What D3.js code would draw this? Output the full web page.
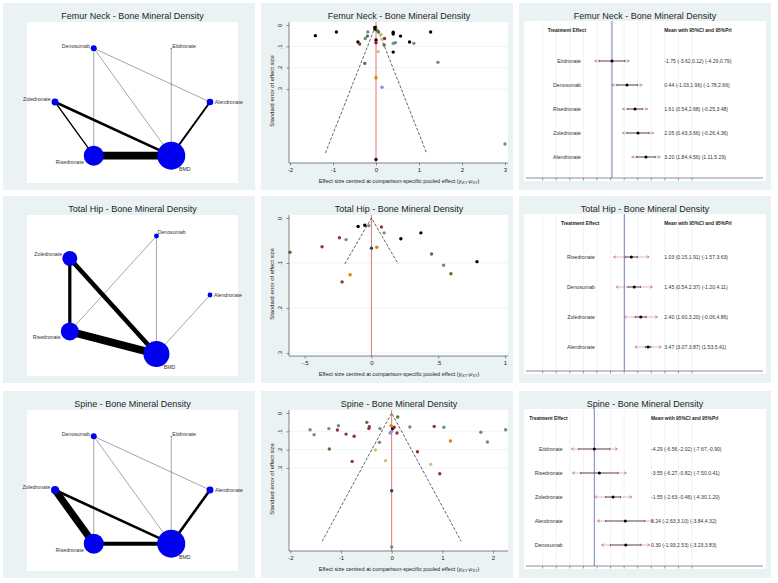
<!DOCTYPE html>
<html>
<head>
<meta charset="utf-8">
<script src="https://cdn.jsdelivr.net/npm/d3@7"></script>
<style>
  body { margin: 0; background: #fff; }
  svg { display: block; font-family: "Liberation Sans", Arial, sans-serif; }
</style>
</head>
<body>
<svg width="778" height="583"></svg>
<script>
const titles = ["Femur Neck - Bone Mineral Density", "Total Hip - Bone Mineral Density", "Spine - Bone Mineral Density"];

// ---- network plots: nodes listed anticlockwise from 3 o'clock
const netNodes = [
  ["Alendronate", "Etidronate", "Denosumab", "Zoledronate", "Risedronate", "BMD"],
  ["Alendronate", "Denosumab", "Zoledronate", "Risedronate", "BMD"],
  ["Alendronate", "Etidronate", "Denosumab", "Zoledronate", "Risedronate", "BMD"]
];
const netNodeSize = [
  [11, 0.3, 9, 12, 100, 196],
  [6, 6, 56, 81, 169],
  [12, 0.3, 9, 16, 100, 196]
];
const netEdges = [
  [["Denosumab", "Risedronate", 1], ["Denosumab", "BMD", 1], ["Denosumab", "Alendronate", 1], ["Etidronate", "BMD", 1],
   ["Zoledronate", "Risedronate", 2], ["Zoledronate", "BMD", 4], ["Alendronate", "BMD", 3], ["Risedronate", "BMD", 12]],
  [["Denosumab", "Risedronate", 1], ["Denosumab", "BMD", 1], ["Alendronate", "BMD", 1],
   ["Zoledronate", "Risedronate", 5], ["Zoledronate", "BMD", 7], ["Risedronate", "BMD", 12]],
  [["Denosumab", "Risedronate", 1], ["Denosumab", "BMD", 1], ["Denosumab", "Alendronate", 1], ["Etidronate", "BMD", 1],
   ["Zoledronate", "Risedronate", 11], ["Zoledronate", "BMD", 4], ["Alendronate", "BMD", 4], ["Risedronate", "BMD", 6]]
];

// ---- comparison-adjusted funnel plots
const funnelX = [
  [-1.41, -0.92, -0.42, -0.38, -0.25, -0.19, -0.20, -0.26, -0.03, -0.02, 0.03, 0.06, 0.00, 0.00, 0.12, 0.14, 0.05,
   0.20, 0.19, 0.40, 0.40, 0.57, 0.40, 0.45, 0.40, 0.78, 0.88, 1.27, 1.44, 0.00, 0.14, 3.00, 0.00],
  [-0.61, -0.37, -0.24, -0.19, -0.16, -0.22, -0.10, -0.05, -0.02, 0.075, 0.095, 0.00, 0.04, 0.22, 0.37, 0.45, 0.54, 0.595, 0.79],
  [-1.61, -1.53, -1.24, -1.05, -1.07, -0.90, -0.74, -1.23, -0.78, -0.49, -0.44, -0.45, -0.23, -0.24, -0.32, -0.12, -0.03,
   0.00, -0.01, 0.02, 0.05, 0.12, 0.105, 0.36, 0.51, 0.84, 1.03, 1.16, 0.77, 0.95, 1.76, 1.89, 2.25, 0.00, 0.00]
];
const funnelSE = [
  [0.050, 0.033, 0.080, 0.089, 0.063, 0.033, 0.052, 0.180, 0.011, 0.020, 0.027, 0.033, 0.070, 0.083, 0.044, 0.067, 0.125,
   0.063, 0.094, 0.034, 0.042, 0.052, 0.086, 0.083, 0.127, 0.080, 0.086, 0.033, 0.175, 0.247, 0.292, 0.558, 0.630],
  [0.076, 0.064, 0.044, 0.048, 0.126, 0.142, 0.019, 0.016, 0.017, 0.020, 0.033, 0.067, 0.065, 0.046, 0.033, 0.080, 0.105, 0.124, 0.097],
  [0.091, 0.118, 0.085, 0.069, 0.093, 0.115, 0.127, 0.196, 0.264, 0.051, 0.075, 0.085, 0.085, 0.160, 0.202, 0.260, 0.109,
   0.100, 0.069, 0.085, 0.078, 0.022, 0.109, 0.076, 0.211, 0.073, 0.078, 0.153, 0.280, 0.331, 0.105, 0.158, 0.091, 0.424, 0.731]
];
const funnelGroup = [
  ["k", "k", "k", "mr", "tl", "tl", "fg", "fg", "k", "k", "fg", "fg", "k", "cr", "kh", "kh", "kh",
   "mr", "fg", "k", "k", "k", "tl", "tl", "k", "k", "tl", "k", "tl", "or", "lv", "tl", "k"],
  ["fg", "mr", "mr", "tl", "or", "mr", "k", "k", "tl", "mr", "tl", "nv", "or", "k", "k", "fg", "tl", "fg", "k"],
  ["tl", "tl", "tl", "tl", "mr", "mr", "mr", "fg", "mr", "fg", "mr", "mr", "tl", "tl", "kh", "kh", "lv",
   "lv", "or", "k", "mr", "fg", "mr", "tl", "mr", "mr", "tl", "or", "kh", "mr", "tl", "tl", "tl", "nv", "tl"]
];
const funnelSeMax = [0.6, 0.102, 0.7];
const funnelXTicks = [[-2, -1, 0, 1, 2, 3], [-0.5, 0, 0.5, 1], [-2, -1, 0, 1, 2]];
const funnelYTicks = [0, 0.1, 0.2, 0.3];

// ---- forest plots
const forestNames = [
  ["Etidronate", "Denosumab", "Risedronate", "Zoledronate", "Alendronate"],
  ["Risedronate", "Denosumab", "Zoledronate", "Alendronate"],
  ["Etidronate", "Risedronate", "Zoledronate", "Alendronate", "Denosumab"]
];
const forestMean = [[-1.75, 0.44, 1.61, 2.05, 3.20], [1.03, 1.45, 2.40, 3.47], [-4.29, -3.55, -1.55, 0.24, 0.30]];
const forestCiLo = [[-3.62, -1.03, 0.54, 0.43, 1.84], [0.15, 0.54, 1.60, 3.07], [-6.56, -6.27, -2.63, -2.63, -1.93]];
const forestCiHi = [[0.12, 1.96, 2.68, 3.66, 4.56], [1.91, 2.37, 3.20, 3.87], [-2.02, -0.82, -0.46, 3.10, 2.53]];
const forestPrLo = [[-4.29, -1.78, -0.25, -0.26, 1.11], [-1.57, -1.20, -0.06, 1.53], [-7.67, -7.50, -4.30, -3.84, -3.23]];
const forestPrHi = [[0.79, 2.66, 3.48, 4.36, 5.29], [3.63, 4.11, 4.86, 5.41], [-0.90, 0.41, 1.20, 4.32, 3.83]];
const forestRef = [-1.75, 0, -4.29];

// ---- layout
const colX = [0, 258, 516], rowY = [0, 193, 388];
const funnelXAnchor = [[32, 247], [46.7, 247], [32.3, 235]];
const funnelYAnchor = [[25, 89], [25, 160], [25, 80]];
const forestRefPx = [96, 108.3, 78.3];
const forestLabelX = [65, 79, 46.7];
const forestHeadX = [31.7, 45, 13.3];
const forestValX = [148.3, 148.3, 135];
const pxPerUnit = 6.85;

const groupColor = d3.scaleOrdinal()
  .domain(["k", "nv", "mr", "fg", "or", "tl", "cr", "lv", "kh"])
  .range(["#000000", "#1a476f", "#90353b", "#55752f", "#e37e00", "#6e8e84", "#c10534", "#938dd2", "#cac27e"]);

// plain hyphen minus, Stata style (no leading zero)
const hy = s => s.replace(/\u2212/g, "-");
const stataFmt = v => hy(d3.format("")(v)).replace(/^(-?)0\./, "$1.");
const f2 = v => hy(d3.format(".2f")(v));
const svg = d3.select("svg");

function panel(r, c) {
  const g = svg.append("g").attr("transform", `translate(${colX[c]},${rowY[r]})`);
  g.append("rect").attr("x", 3).attr("y", 3).attr("width", 252).attr("height", 187).attr("fill", "#eaf2f3");
  return g;
}
function title(g, p, cx) {
  g.append("text").attr("x", cx).attr("y", 18.5).attr("text-anchor", "middle")
    .attr("font-size", 9).attr("fill", "#1e1e1e").text(titles[p]);
}

function drawNetwork(g, p) {
  g.append("rect").attr("x", 27).attr("y", 22).attr("width", 211).attr("height", 161).attr("fill", "#fff");
  title(g, p, 132.5);
  const sx = d3.scaleLinear().domain([-1, 1]).range([55, 210]);
  const sy = d3.scaleLinear().domain([-1, 1]).range([164, 40]);
  const rs = d3.scaleSqrt().domain([0, 196]).range([0, 14]);
  const ws = d3.scaleLinear().domain([0, 12]).range([0, 7.8]);
  const n = netNodes[p].length;
  const nodes = netNodes[p].map((name, k) => {
    const a = 2 * Math.PI * k / n;
    return { name, a, x: sx(Math.cos(a)), y: sy(Math.sin(a)), r: rs(netNodeSize[p][k]) };
  });
  const byName = {};
  nodes.forEach(d => { byName[d.name] = d; });

  g.selectAll("line.edge").data(netEdges[p]).join("line")
    .attr("class", "edge")
    .attr("x1", d => byName[d[0]].x).attr("y1", d => byName[d[0]].y)
    .attr("x2", d => byName[d[1]].x).attr("y2", d => byName[d[1]].y)
    .attr("stroke", "#000").attr("stroke-width", d => ws(d[2]))
    .attr("stroke-opacity", d => d[2] > 1 ? 1 : 0.55);

  g.selectAll("circle.node").data(nodes).join("circle")
    .attr("class", "node")
    .attr("cx", d => d.x).attr("cy", d => d.y).attr("r", d => d.r)
    .attr("fill", "#0000ee");

  const labelAngle = a => {
    const c = Math.cos(a), s = Math.sin(a);
    if (c < -0.1) return (s >= 0 ? 150 : 210) * Math.PI / 180;
    if (s < -0.5) return 300 * Math.PI / 180;
    return a;
  };
  g.selectAll("text.lab").data(nodes).join("text")
    .attr("class", "lab")
    .each(function (d) {
      const f = labelAngle(d.a), c = Math.cos(f);
      d3.select(this)
        .attr("x", d.x + (d.r + 1.5) * c)
        .attr("y", d.y - (d.r + 2) * Math.sin(f))
        .attr("dy", "0.35em")
        .attr("text-anchor", c < -0.2 ? "end" : (c > 0.2 ? "start" : "middle"));
    })
    .attr("font-size", 5.2).attr("fill", "#333").text(d => d.name);
}

function drawFunnel(g, p) {
  const L = 31, R = 250, T = 22, B = 163;
  g.append("rect").attr("x", L).attr("y", T).attr("width", R - L).attr("height", B - T).attr("fill", "#fff");
  title(g, p, 141);
  const xt = funnelXTicks[p];
  const x = d3.scaleLinear().domain([xt[0], xt[xt.length - 1]]).range(funnelXAnchor[p]);
  const y = d3.scaleLinear().domain([0, 0.3]).range(funnelYAnchor[p]);

  g.selectAll("line.grid").data(funnelYTicks.slice(1)).join("line")
    .attr("class", "grid")
    .attr("x1", L).attr("x2", R).attr("y1", d => y(d)).attr("y2", d => y(d))
    .attr("stroke", "#e4ecee").attr("stroke-width", 0.6);

  g.append("line").attr("x1", x(0)).attr("x2", x(0)).attr("y1", T).attr("y2", B)
    .attr("stroke", "#e26868").attr("stroke-width", 0.9);

  const m = funnelSeMax[p];
  g.append("path")
    .attr("d", d3.line()([[x(-1.96 * m), y(m)], [x(0), y(0)], [x(1.96 * m), y(m)]]))
    .attr("fill", "none").attr("stroke", "#222").attr("stroke-width", 0.7).attr("stroke-dasharray", "3,1.6");

  const pts = funnelX[p].map((v, i) => ({ x: v, se: funnelSE[p][i], g: funnelGroup[p][i] }));
  g.selectAll("circle.pt").data(pts).join("circle")
    .attr("class", "pt")
    .attr("cx", d => x(d.x)).attr("cy", d => y(d.se)).attr("r", 1.7)
    .attr("fill", d => groupColor(d.g));

  // axes
  const ax = g.append("g").attr("transform", `translate(0,${B})`)
    .call(d3.axisBottom(x).tickValues(xt).tickFormat(stataFmt).tickSize(2.5).tickSizeOuter(0));
  ax.select(".domain").remove();
  ax.selectAll("text").attr("font-size", 6).attr("fill", "#222").attr("y", 4.5).attr("dy", "0.75em");
  ax.selectAll("line").attr("stroke", "#333").attr("stroke-width", 0.5);

  const ay = g.append("g").attr("transform", `translate(${L},0)`)
    .call(d3.axisLeft(y).tickValues(funnelYTicks).tickFormat(stataFmt).tickSize(2.5).tickSizeOuter(0));
  ay.select(".domain").remove();
  ay.selectAll("text").attr("font-size", 6).attr("fill", "#222")
    .attr("x", 0).attr("y", 0).attr("dy", 0).attr("text-anchor", "middle")
    .attr("transform", "translate(-7.5,0) rotate(-90)");
  ay.selectAll("line").attr("stroke", "#333").attr("stroke-width", 0.5);

  g.append("line").attr("x1", L).attr("x2", L).attr("y1", T).attr("y2", B).attr("stroke", "#333").attr("stroke-width", 0.6);
  g.append("line").attr("x1", L).attr("x2", R).attr("y1", B).attr("y2", B).attr("stroke", "#333").attr("stroke-width", 0.6);

  g.append("text").attr("transform", "translate(15.5,91) rotate(-90)").attr("text-anchor", "middle")
    .attr("font-size", 5.8).attr("fill", "#222").text("Standard error of effect size");

  const t = g.append("text").attr("x", 141).attr("y", 182.5).attr("text-anchor", "middle")
    .attr("font-size", 5.6).attr("fill", "#222");
  t.append("tspan").text("Effect size centred at comparison-specific pooled effect (");
  t.append("tspan").attr("font-style", "italic").text("y");
  t.append("tspan").attr("font-size", 3.8).attr("dy", 1.2).text("iXY");
  t.append("tspan").attr("dy", -1.2).text("-");
  t.append("tspan").attr("font-style", "italic").text("μ");
  t.append("tspan").attr("font-size", 3.8).attr("dy", 1.2).text("XY");
  t.append("tspan").attr("dy", -1.2).text(")");
}

function drawForest(g, p) {
  const L = 8, R = 250, T = 21, B = 181, axisY = 178;
  g.append("rect").attr("x", L).attr("y", T).attr("width", R - L).attr("height", B - T).attr("fill", "#fff");
  title(g, p, 129);
  const ref = forestRef[p];
  const x = d3.scaleLinear().domain([ref, ref + 10]).range([forestRefPx[p], forestRefPx[p] + 10 * pxPerUnit]);
  const tickPos = d3.scaleLinear().domain([0, 11]).range([26.7, 176]);
  const ticks = d3.range(12);

  g.selectAll("line.vgrid").data(ticks).join("line")
    .attr("class", "vgrid")
    .attr("x1", d => tickPos(d)).attr("x2", d => tickPos(d)).attr("y1", T + 1).attr("y2", axisY)
    .attr("stroke", "#e3e6ef").attr("stroke-width", 0.5);
  g.append("line").attr("x1", 10).attr("x2", 247).attr("y1", axisY).attr("y2", axisY)
    .attr("stroke", "#444").attr("stroke-width", 0.6);
  g.selectAll("line.tk").data(ticks).join("line")
    .attr("class", "tk")
    .attr("x1", d => tickPos(d)).attr("x2", d => tickPos(d)).attr("y1", axisY).attr("y2", axisY + 2.5)
    .attr("stroke", "#444").attr("stroke-width", 0.5);

  g.append("line").attr("x1", x(ref)).attr("x2", x(ref)).attr("y1", T).attr("y2", axisY)
    .attr("stroke", "#7c7cc2").attr("stroke-width", 1);

  g.append("text").attr("x", forestHeadX[p]).attr("y", 31.5).attr("font-size", 4.9).attr("font-weight", "bold")
    .attr("fill", "#222").text("Treatment Effect");
  g.append("text").attr("x", forestValX[p]).attr("y", 31.5).attr("font-size", 4.9).attr("font-weight", "bold")
    .attr("fill", "#222").text("Mean with 95%CI and 95%PrI");

  const rows = forestNames[p].map((name, i) => ({
    name, m: forestMean[p][i], lo: forestCiLo[p][i], hi: forestCiHi[p][i], plo: forestPrLo[p][i], phi: forestPrHi[p][i]
  }));
  const y = d3.scalePoint().domain(forestNames[p]).range([49, 169]).padding(0.5);

  const row = g.selectAll("g.row").data(rows).join("g").attr("class", "row")
    .attr("transform", d => `translate(0,${y(d.name)})`);
  row.append("line").attr("x1", d => x(d.plo)).attr("x2", d => x(d.phi))
    .attr("stroke", "#d48686").attr("stroke-width", 0.6);
  row.append("path")
    .attr("d", d => `M${x(d.plo) + 2.6},-1.3L${x(d.plo)},0L${x(d.plo) + 2.6},1.3M${x(d.phi) - 2.6},-1.3L${x(d.phi)},0L${x(d.phi) - 2.6},1.3`)
    .attr("fill", "none").attr("stroke", "#b06a6a").attr("stroke-width", 0.6);
  row.append("line").attr("x1", d => x(d.lo)).attr("x2", d => x(d.hi))
    .attr("stroke", "#111").attr("stroke-width", 0.6);
  row.append("path")
    .attr("d", d => `M${x(d.lo)},-1.2V1.2M${x(d.hi)},-1.2V1.2`)
    .attr("stroke", "#111").attr("stroke-width", 0.5);
  row.append("circle").attr("cx", d => x(d.m)).attr("r", 1.5).attr("fill", "#000");
  row.append("text").attr("x", forestLabelX[p]).attr("dy", "0.35em").attr("text-anchor", "end")
    .attr("font-size", 5.2).attr("fill", "#333").text(d => d.name);
  row.append("text").attr("x", forestValX[p]).attr("dy", "0.35em")
    .attr("font-size", 5.1).attr("fill", "#333")
    .text(d => `${f2(d.m)} (${f2(d.lo)},${f2(d.hi)}) (${f2(d.plo)},${f2(d.phi)})`);
}

for (let p = 0; p < 3; p++) {
  drawNetwork(panel(p, 0), p);
  drawFunnel(panel(p, 1), p);
  drawForest(panel(p, 2), p);
}
</script>
</body>
</html>
